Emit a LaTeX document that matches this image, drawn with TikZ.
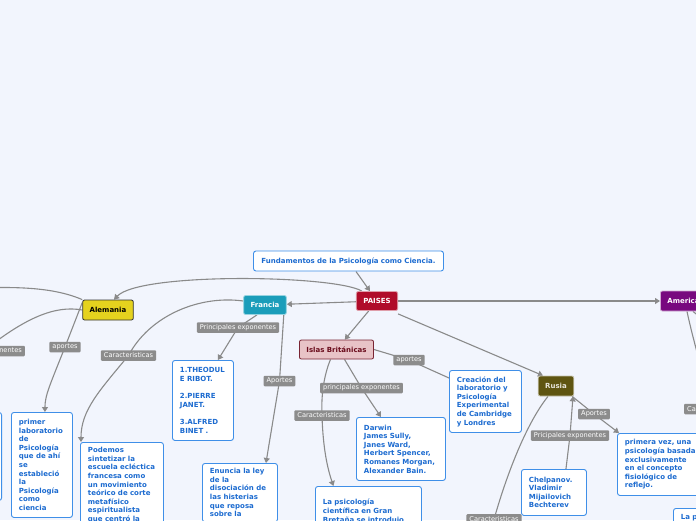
\documentclass[tikz,border=0pt]{standalone}
\usepackage{fontspec}
\setmainfont{DejaVu Sans}
\usetikzlibrary{arrows.meta,backgrounds,positioning}
\definecolor{paper}{HTML}{F2F5FD}
\definecolor{noteblue}{HTML}{3F8FE8}
\definecolor{notetext}{HTML}{1C6BD0}
\definecolor{linkgrey}{HTML}{8A8A8A}
\definecolor{labgrey}{HTML}{8C8C8C}
\definecolor{crimson}{HTML}{B00C2A}
\definecolor{mustard}{HTML}{E5D21E}
\definecolor{teal}{HTML}{1B9DBA}
\definecolor{rosy}{HTML}{E8C3C7}
\definecolor{wine}{HTML}{6A0C1C}
\definecolor{olive}{HTML}{5F5511}
\definecolor{plum}{HTML}{78097F}
\tikzset{country/.style={rounded corners=2pt,line width=.8pt,inner xsep=7pt,inner ysep=0pt,minimum height=19pt,font=\fontsize{7}{8}\selectfont\bfseries},notebox/.style={draw=noteblue,fill=white,rounded corners=2.5pt,line width=.9pt,anchor=north west,align=left,inner xsep=7.5pt,inner ysep=5pt,text=notetext,font=\fontsize{7}{8.6}\selectfont\bfseries},linklabel/.style={fill=labgrey,text=white,rounded corners=1pt,inner xsep=3pt,inner ysep=0pt,minimum height=10.5pt,font=\fontsize{6.6}{7}\selectfont},link/.style={draw=linkgrey,line width=1.1pt},tip/.style={-{Triangle[length=5pt,width=6pt]}}}

\begin{document}
\begin{tikzpicture}[x=1pt,y=-1pt]
\useasboundingbox (0,0) rectangle (696,520);
% paises
\node[notebox,anchor=center,minimum width=189pt,minimum height=20pt,inner ysep=0pt,text width=175pt,align=center] (fund) at (348.5,261) {Fundamentos de la Psicología como Ciencia.};
\node[country,fill=crimson,draw=crimson!40,text=white] (paises) at (377,301) {PAISES};
\node[country,fill=mustard,draw=black!80,text=black,minimum height=20pt] (alemania) at (108,310) {Alemania};
\node[country,fill=teal,draw=teal!45,text=white] (francia) at (265,305) {Francia};
\node[country,fill=rosy,draw=wine!90,text=wine] (islas) at (336.5,349.5) {Islas Británicas};
\node[country,fill=olive,draw=olive!35,text=olive!15,minimum height=20pt] (rusia) at (556,386) {Rusia};
\node[country,fill=plum,draw=plum!35,text=white,minimum height=20pt,anchor=west] (america) at (660,301) {America};
% notas
\node[notebox,anchor=north east,minimum width=60pt,minimum height=88pt] (izq) at (2,412) {};
\node[notebox,text width=46pt,minimum height=105pt] (primer) at (11,412) {primer\\laboratorio\\de\\Psicología\\que de ahí\\se\\estableció\\la\\Psicología\\como\\ciencia};
\node[notebox,text width=46pt,minimum height=80pt] (theo) at (172,360) {1.THEODUL\\E RIBOT.\\[8.6pt]2.PIERRE\\JANET.\\[8.6pt]3.ALFRED\\BINET .};
\node[notebox,text width=68pt] (podemos) at (80,442) {Podemos\\sintetizar la\\escuela ecléctica\\francesa como\\un movimiento\\teórico de corte\\metafísico\\espiritualista\\que centró la};
\node[notebox,text width=60pt] (enuncia) at (202,463) {Enuncia la ley\\de la\\disociación de\\las histerias\\que reposa\\sobre la\\};
\node[notebox,text width=57pt,minimum height=62pt] (creacion) at (449,370) {Creación del\\laboratorio y\\Psicología\\Experimental\\de Cambridge\\y Londres};
\node[notebox,text width=74pt,minimum height=63pt] (darwin) at (356,417) {Darwin\\James Sully,\\Janes Ward,\\Herbert Spencer,\\Romanes Morgan,\\Alexander Bain.};
\node[notebox,text width=91pt,minimum height=50pt] (lapsico) at (315,486) {La psicología\\científica en Gran\\Bretaña se introdujo\\};
\node[notebox,text width=50pt,minimum height=46pt] (chelpanov) at (521,469) {Chelpanov.\\Vladimir\\Mijailovich\\Bechterev};
\node[notebox,text width=76pt,minimum height=62pt] (primera) at (617,433) {primera vez, una\\psicología basada\\exclusivamente\\en el concepto\\fisiológico de\\reflejo.};
\node[notebox,text width=60pt] (lapsico2) at (673,508) {La psicología\\};
% etiquetas
\node[linklabel,anchor=east] (labAE) at (25,351) {Principales exponentes};
\node[linklabel] (labA) at (65,347) {aportes};
\node[linklabel] (labC1) at (128.5,355.5) {Caracteristicas};
\node[linklabel] (labP) at (238,327.5) {Principales exponentes};
\node[linklabel] (labAp) at (279.5,381) {Aportes};
\node[linklabel] (labIA) at (409,360) {aportes};
\node[linklabel] (labIP) at (361.5,388) {principales exponentes};
\node[linklabel] (labIC) at (322,415.5) {Caracteristicas};
\node[linklabel] (labRA) at (594,414) {Aportes};
\node[linklabel] (labRP) at (570,435.5) {Pricipales exponentes};
\node[linklabel,anchor=north] (labRC) at (494,514) {Caracteristicas};
\node[linklabel,anchor=west] (labAmC) at (684,409) {Caracteristicas};
\coordinate (alOut) at (-20,288);
\coordinate (amOut) at (706,322);
\begin{scope}[on background layer]
\fill[paper] (0,0) rectangle (696,520);
\draw[link,tip] (fund) -- (paises);
\draw[link,tip] ([xshift=6pt]paises.north west) .. controls (335,275) and (140,272) .. ([xshift=6pt]alemania.north);
\draw[link] (alemania.north west) .. controls (60,290) and (30,286) .. (alOut);
\draw[link] (alemania.west) .. controls (55,305) and (25,318) .. (labAE.center);
\draw[link,tip] ([yshift=-3pt]alemania.north west) -- (labA.center) .. controls (50,385) and (45,395) .. ([xshift=3pt]primer.north);
\draw[link,tip] (paises) -- (francia);
\draw[link,tip] ([yshift=4pt]francia.west) .. controls (200,295) and (150,315) .. (labC1.center) .. controls (100,390) and (81,410) .. ([xshift=1pt]podemos.north west);
\draw[link,tip] ([xshift=-8pt]francia.south) -- (labP.center) -- ([xshift=15pt]theo.north);
\draw[link,tip] ([xshift=-3pt]francia.south east) -- (labAp.center) -- ([xshift=26pt]enuncia.north);
\draw[link,tip] (paises) -- (islas);
\draw[link,tip] ([yshift=-3pt]paises.south east) -- ([xshift=-13pt]rusia.north);
\draw[link,tip] (paises.east) -- (america.west);
\draw[link] (islas.east) -- (labIA.center) -- ([yshift=-8pt]creacion.north west);
\draw[link,tip] ([xshift=8pt]islas.south) -- (labIP.center) -- ([xshift=-20pt]darwin.north);
\draw[link,tip] ([xshift=-6pt]islas.south) .. controls (324,375) and (321,395) .. (labIC.center) .. controls (323,450) and (328,470) .. ([xshift=-35pt]lapsico.north);
\draw[link,tip] ([xshift=-2pt]rusia.south east) -- (labRA.center) -- ([xshift=2pt]primera.north west);
\draw[link,tip] ([xshift=12pt]chelpanov.north) -- (labRP.center) -- ([xshift=17pt]rusia.south);
\draw[link] ([xshift=-8pt]rusia.south) .. controls (525,425) and (505,480) .. (labRC.center);
\draw[link] ([xshift=27pt]america.south west) .. controls (693,340) and (705,380) .. (labAmC.center);
\draw[link] ([xshift=33pt]america.south west) -- (amOut);
\end{scope}
\end{tikzpicture}
\end{document}
